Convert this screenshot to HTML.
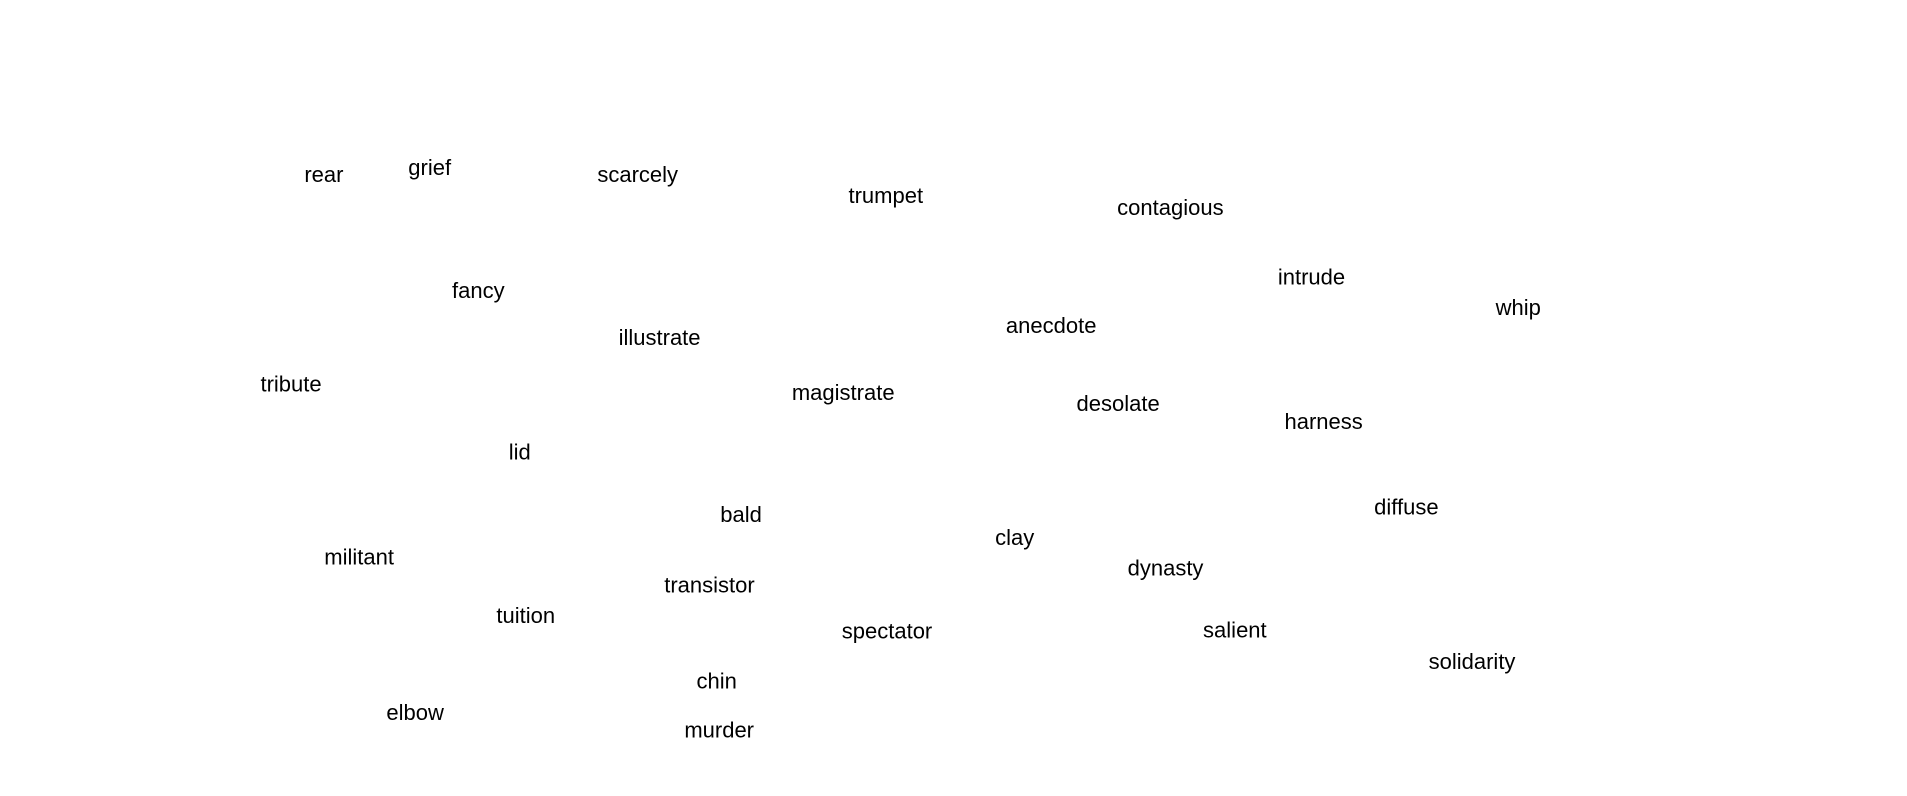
<!DOCTYPE html>
<html><head><meta charset="utf-8"><style>
html,body{margin:0;padding:0;background:#fff;width:1907px;height:796px;overflow:hidden}
svg text{font-family:"Liberation Sans",sans-serif;font-size:18px;fill:#000}
</style></head><body>
<svg id="chart" width="1907" height="796" viewBox="0 0 1560 651.2" xmlns="http://www.w3.org/2000/svg"></svg>
<script>
const words=["rear","grief","scarcely","trumpet","contagious","intrude","whip","fancy","illustrate","anecdote","tribute","magistrate","desolate","harness","lid","bald","diffuse","clay","militant","dynasty","transistor","tuition","spectator","salient","solidarity","chin","elbow","murder"];
const xVals=[265,352,523,727,961,1077,1247,392,541,863,238,692,918,1087,426,608,1155,833,294,957,582,431,728,1014,1209,588,340,590];
const yVals=[143,137,143,160,170,227,252,238,277,267,315,322,331,346,371,422,416,441,457,466,480,505,518,517,543,559,585,599];
function xScale(v){return v-(v-250)*0.005;}
function yScale(v){return v+6-(v-140)*0.004;}
const svg=document.getElementById('chart');
for(let i=0;i<words.length;i++){
  const t=document.createElementNS('http://www.w3.org/2000/svg','text');
  t.setAttribute('x',xScale(xVals[i]));
  t.setAttribute('y',yScale(yVals[i]));
  t.setAttribute('text-anchor','middle');
  t.textContent=words[i];
  
  
  svg.appendChild(t);
}
</script>
</body></html>
